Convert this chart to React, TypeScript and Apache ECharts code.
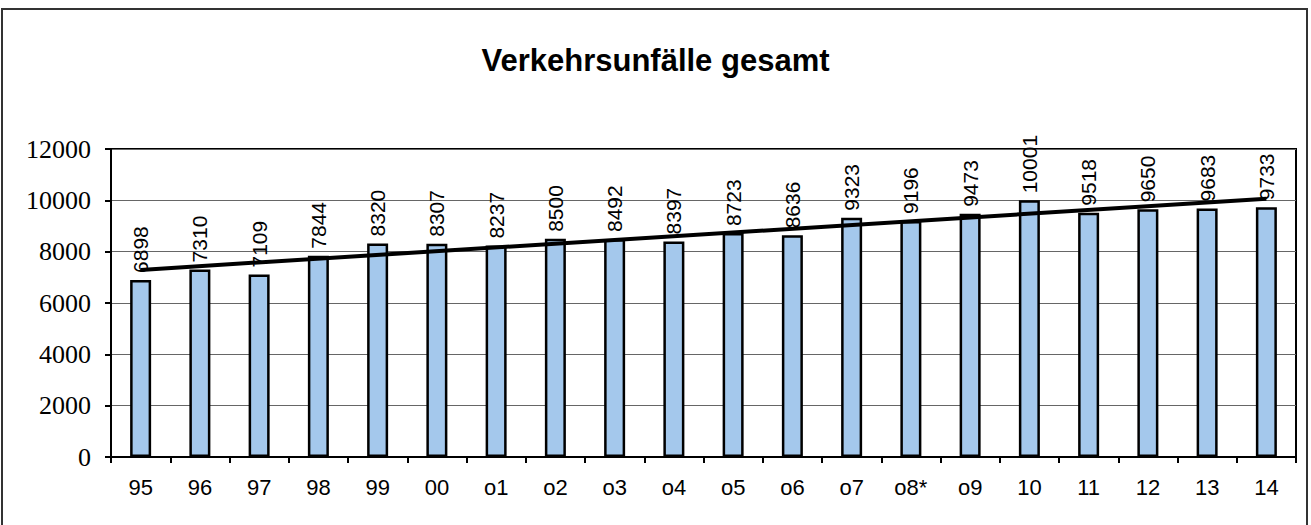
import React, { useEffect, useRef } from "react";
import * as echarts from "echarts";

const categories = ["95", "96", "97", "98", "99", "00", "o1", "o2", "o3", "o4", "o5", "o6", "o7", "o8*", "o9", "10", "11", "12", "13", "14"];
const accidents = [6898, 7310, 7109, 7844, 8320, 8307, 8237, 8500, 8492, 8397, 8723, 8636, 9323, 9196, 9473, 10001, 9518, 9650, 9683, 9733];
const trendStart = 7290;
const trendEnd = 10060;
const title = "Verkehrsunfälle gesamt";

export default function App() {
  const ref = useRef<HTMLDivElement>(null);
  useEffect(() => {
    document.body.style.margin = "0";
    const chart = echarts.init(ref.current!, null, { renderer: "svg" });
    chart.setOption({
      animation: false,
      backgroundColor: "#fff",
      title: {
        text: title,
        left: "center",
        top: 40,
        textStyle: { fontFamily: "Liberation Sans, Arial, sans-serif", fontSize: 31, fontWeight: "bold", color: "#000" },
      },
      graphic: [
        {
          type: "rect",
          shape: { x: 2, y: 9, width: 1305, height: 530 },
          style: { fill: "none", stroke: "#333", lineWidth: 2 },
          silent: true,
        },
      ],
      grid: { left: 111, right: 15, top: 149, bottom: 68, show: true, borderColor: "#000", borderWidth: 2, backgroundColor: "transparent" },
      xAxis: {
        type: "category",
        data: categories,
        axisLine: { lineStyle: { color: "#000", width: 2 } },
        axisTick: { show: true, alignWithLabel: false, length: 6, lineStyle: { color: "#000", width: 2 } },
        axisLabel: { fontFamily: "Liberation Sans, Arial, sans-serif", fontSize: 22, color: "#000", margin: 19 },
      },
      yAxis: {
        type: "value",
        min: 0,
        max: 12000,
        interval: 2000,
        axisLine: { show: true, lineStyle: { color: "#000", width: 2 } },
        axisTick: { show: true, length: 6, lineStyle: { color: "#000", width: 2 } },
        axisLabel: {
          fontFamily: "Liberation Serif, Times New Roman, serif",
          fontSize: 26,
          color: "#000",
          margin: 20,
          formatter: (v: number) => String(v),
        },
        splitLine: { show: true, lineStyle: { color: "#666", width: 1 } },
      },
      series: [
        {
          type: "bar",
          data: accidents,
          barWidth: 21,
          itemStyle: { color: "#A4C8EC", borderColor: "#000", borderWidth: 2.5 },
          label: {
            show: true,
            position: "top",
            rotate: 90,
            align: "left",
            verticalAlign: "middle",
            distance: 7,
            fontFamily: "Liberation Sans, Arial, sans-serif",
            fontSize: 21,
            color: "#000",
          },
          z: 2,
        },
        {
          type: "line",
          data: [[categories[0], trendStart], [categories[categories.length - 1], trendEnd]],
          symbol: "none",
          lineStyle: { color: "#000", width: 4 },
          z: 3,
        },
      ],
    });
    return () => chart.dispose();
  }, []);
  return <div ref={ref} style={{ width: 1311, height: 525 }} />;
}
